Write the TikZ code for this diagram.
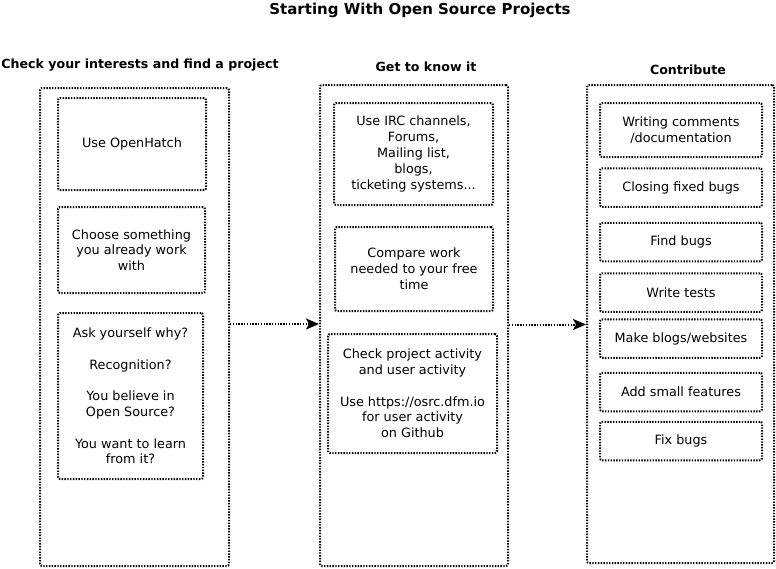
\documentclass[tikz,border=0pt]{standalone}
\usepackage{fontspec}
\setmainfont{DejaVu Sans}
\usetikzlibrary{arrows.meta}

\tikzset{
    dotline/.style={line width=2pt, dash pattern=on 1.4pt off 1.4pt},
    column/.style={draw, dotline, rounded corners=2pt, inner sep=0pt},
    card/.style={draw, dotline, rounded corners=2pt, inner sep=0pt, align=center,
        font=\fontsize{12.8}{15.8}\selectfont},
    heading/.style={font=\fontsize{12.6}{15}\selectfont\bfseries},
    flow/.style={dotline, -{Stealth[length=13pt, width=11pt, inset=3pt]}}
}

\begin{document}
\begin{tikzpicture}[x=1pt, y=-1pt]
    \useasboundingbox (0,0) rectangle (776,568);

    % Title
    \node[font=\fontsize{15}{18}\selectfont\bfseries] (title) at (420,10) {Starting With Open Source Projects};

    % Check your interests
    \node[heading] (head1) at (140,65) {Check your interests and find a project};
    \node[column, minimum width=189pt, minimum height=478pt] (col1) at (134.5,327) {};
    \node[card, minimum width=148pt, minimum height=92pt] (hatch) at (132,144) {Use OpenHatch};
    \node[card, minimum width=147pt, minimum height=86pt] (choose) at (131.5,250) {Choose something\\you already work\\with};
    \node[card, minimum width=145pt, minimum height=166pt] (why) at (130.5,396)
        {Ask yourself why?\\[15.8pt]Recognition?\\[15.8pt]You believe in\\Open Source?\\[15.8pt]You want to learn\\from it?};

    % Get to know it
    \node[heading] (head2) at (426,67) {Get to know it};
    \node[column, minimum width=188pt, minimum height=481pt] (col2) at (414,325.5) {};
    \node[card, minimum width=159pt, minimum height=102pt] (irc) at (413.5,154)
        {Use IRC channels,\\Forums,\\Mailing list,\\blogs,\\ticketing systems...};
    \node[card, minimum width=158pt, minimum height=84pt] (compare) at (414,269) {Compare work\\needed to your free\\time};
    \node[card, minimum width=169pt, minimum height=119pt] (activity) at (412.5,393.5)
        {Check project activity\\and user activity\\[15.8pt]Use https://osrc.dfm.io\\for user activity\\on Github};

    % Contribute
    \node[heading] (head3) at (688,70) {Contribute};
    \node[column, minimum width=187pt, minimum height=478pt] (col3) at (680.5,324) {};
    \node[card, minimum width=162pt, minimum height=54pt] (docs) at (681,130) {Writing comments\\/documentation};
    \foreach \name/\y/\txt in {closing/187.5/Closing fixed bugs, find/242/Find bugs, tests/292.5/Write tests,
                               blogs/338.5/Make blogs\slash websites, features/392/Add small features, fix/441/Fix bugs}
        \node[card, minimum width=162pt, minimum height=38.5pt] (\name) at (681,\y) {\txt};

    % arrows between the columns
    \draw[flow] ([yshift=3pt]col1.east) -- ([yshift=3pt]col1.east -| col2.west);
    \draw[flow] ([yshift=1pt]col2.east) -- ([yshift=1pt]col2.east -| col3.west);
\end{tikzpicture}
\end{document}
